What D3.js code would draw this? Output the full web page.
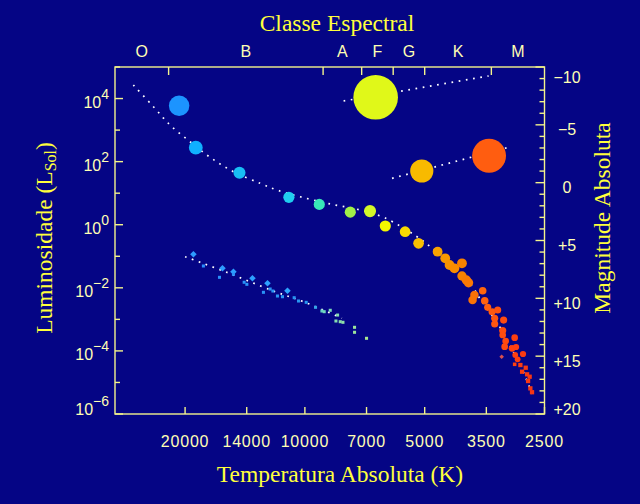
<!DOCTYPE html>
<html><head><meta charset="utf-8">
<script src="https://cdn.jsdelivr.net/npm/d3@7"></script>
<style>
html,body{margin:0;padding:0;background:#050585;}
svg{display:block;}
</style></head><body>
<svg id="chart" width="640" height="504"></svg>
<script>
// ---------- data ----------
const spectralClasses = ["O", "B", "A", "F", "G", "K", "M"];
const spectralBounds = [30000, 22000, 9000, 7200, 6000, 5000, 3400, 2500];
const tempTicks = [20000, 14000, 10000, 7000, 5000, 3500, 2500];
const lumExponents = [-6, -5, -4, -3, -2, -1, 0, 1, 2, 3, 4, 5];
const lumLabelExponents = [4, 2, 0, -2, -4, -6];
const magMajor = [-10, -5, 0, 5, 10, 15, 20];
const magMinor = d3.range(-10, 21, 1);
const magLabels = ["\u221210", "\u22125", "0", "+5", "+10", "+15", "+20"];

// main sequence stars
const msTemp = [20700, 18800, 14600, 10970, 9200, 7690, 6860, 6280, 5600, 5180,
  4640, 4440, 4330, 4210, 4030, 4030, 3930, 3880, 3575, 3750,
  3790, 3533, 3473, 3386, 3278, 3335, 3335, 3167, 3184, 3184,
  3130, 2971, 3148, 3016, 2947, 3203, 2961, 2831, 2921, 2971,
  2874, 2846, 2787, 2765, 2724, 2749, 2713, 2687];
const msLum = [5900, 277, 44.6, 7.4, 4.4, 2.5, 2.7, 0.91, 0.60, 0.258,
  0.14, 0.086, 0.0528, 0.0416, 0.0598, 0.0237, 0.0177, 0.0145, 0.0081, 0.0059,
  0.0041, 0.0039, 0.0024, 0.00175, 0.00198, 0.00108, 0.00071, 0.00095, 0.00044, 0.00032,
  0.000206, 0.000262, 0.000136, 0.000121, 0.000133, 0.0000655, 0.0000741, 0.0000798, 0.0000542, 0.0000376,
  0.0000357, 0.0000219, 0.0000293, 0.0000181, 0.0000152, 0.0000111, 0.0000065, 0.0000049];
const msRelRadius = [0.46, 0.31, 0.27, 0.25, 0.25, 0.25, 0.27, 0.25, 0.24, 0.24,
  0.22, 0.22, 0.22, 0.22, 0.22, 0.21, 0.21, 0.21, 0.17, 0.19,
  0.19, 0.17, 0.16, 0.16, 0.16, 0.16, 0.16, 0.16, 0.16, 0.15,
  0.15, 0.15, 0.15, 0.15, 0.14, 0.10, 0.13, 0.14, 0.13, 0.10,
  0.12, 0.12, 0.12, 0.12, 0.12, 0.12, 0.12, 0.12];
const msShape = ["c","c","c","c","c","c","c","c","c","c",
  "c","c","c","c","c","c","c","c","c","c",
  "c","c","c","c","c","c","c","c","c","c",
  "c","c","c","c","c","d","c","c","c","s",
  "s","s","s","s","s","s","s","s"];

// giants and supergiant
const giantTemp = [5085, 3445, 6640];
const giantLum = [50.5, 154, 10950];
const giantRelRadius = [0.52, 0.76, 1.0];

// white dwarfs
const wdTemp = [19060, 16110, 15120, 13545, 12415, 11060,
  17990, 16390, 15120, 14210, 13990, 12710, 12225, 12035, 11720, 11385,
  10640, 10375, 9925, 9403, 9063, 8943, 8635, 8277, 8356, 8150, 8023, 7503, 7503, 7000];
const wdLum = [0.1155, 0.0416, 0.0324, 0.020, 0.01387, 0.0081,
  0.0492, 0.0215, 0.0268, 0.015, 0.0129, 0.0072, 0.00917, 0.00792, 0.0055, 0.00522,
  0.00486, 0.00382, 0.00347, 0.00241, 0.00184, 0.00175, 0.00194, 0.00137, 0.000887, 0.000843, 0.000807, 0.00056, 0.000389, 0.000251];
const wdShape = ["d","d","d","d","d","d",
  "s","s","s","s","s","s","s","s","s","s",
  "s","s","s","s","s","s","s","s","s","s","s","s","s","s"];

// dotted sequences
const msCurveTemp = [26980, 24020, 21820, 19430, 17300, 15120, 12955, 11760, 10275, 8635, 7260, 6283, 5228, 4840, 4310, 3802, 3623, 3260, 3045, 2840, 2661];
const msCurveLum = [26850, 5510, 1449, 428, 137, 48, 20.6, 12.6, 7.73, 4.54, 2.93, 1.63, 0.417, 0.201, 0.0657, 0.0114, 0.00432, 0.000662, 0.000136, 0.0000248, 0.00000314];
const giantCurveTemp = [6040, 3075];
const giantCurveLum = [29.6, 285];
const superCurveTemp = [7995, 3453];
const superCurveLum = [8360, 51860];
const wdCurveTemp = [20000, 15860, 11875, 10080, 8070];
const wdCurveLum = [0.0969, 0.0324, 0.00753, 0.00363, 0.00108];

// colour ramps by temperature
const starColorTemps = [30000, 20700, 18800, 14600, 11000, 9200, 7700, 6860, 6300, 5600, 5200, 4600, 4000, 3500, 3000, 2500];
const starColors = ["#1878ff", "#1c94ff", "#10b0ff", "#18bef5", "#20cef0", "#38e8b8", "#a0f048", "#d4f828", "#f4f800", "#f8d800", "#f8c000", "#f8a000", "#f88000", "#ff6010", "#ff4010", "#f03018"];
const wdColorTemps = [20000, 9500, 9000, 8000, 7000];
const wdColors = ["#2a8cff", "#2898f0", "#70d8c0", "#90e0a8", "#a8e890"];

// ---------- layout ----------
const W = 640, H = 504;
const L = 115, R = 544.5, T = 67, B = 414;
const axisCol = "#f4f48c", tickTextCol = "#ffffb4", titleCol = "#ffff3c";
const sans = "'Liberation Sans', Arial, sans-serif";
const serif = "'Liberation Serif', 'Times New Roman', serif";

const svg = d3.select("#chart");
svg.append("rect").attr("width", W).attr("height", H).attr("fill", "#050585");

const x = d3.scaleLog().domain([30000, 2500]).range([L, R]);
const y = d3.scaleLog().domain([1e-6, 1e5]).range([B, T]);
const mag = d3.scaleLinear().domain([-10, 20]).range([T, B]);
const rScale = d3.scaleLinear().domain([0, 1]).range([0, 22.3]);
const starColor = d3.scaleLog().domain(starColorTemps).range(starColors).interpolate(d3.interpolateRgb).clamp(true);
const wdColor = d3.scaleLog().domain(wdColorTemps).range(wdColors).interpolate(d3.interpolateRgb).clamp(true);

// ---------- dotted curves ----------
const line = d3.line().x(d => x(d[0])).y(d => y(d[1])).curve(d3.curveCatmullRom);
const curves = [
  d3.zip(msCurveTemp, msCurveLum),
  d3.zip(giantCurveTemp, giantCurveLum),
  d3.zip(superCurveTemp, superCurveLum),
  d3.zip(wdCurveTemp, wdCurveLum)
];
svg.append("g").selectAll("path").data(curves).join("path")
  .attr("d", line).attr("fill", "none").attr("stroke", "#ffffff")
  .attr("stroke-width", 1.7).attr("stroke-dasharray", "1.7 5.6");

// ---------- markers ----------
function drawMarker(g, shape, cx, cy, r, col) {
  if (shape === "c") {
    g.append("circle").attr("cx", cx).attr("cy", cy).attr("r", r).attr("fill", col);
  } else if (shape === "s") {
    const s = r * 1.6;
    g.append("rect").attr("x", cx - s / 2).attr("y", cy - s / 2).attr("width", s).attr("height", s).attr("fill", col);
  } else {
    const s = r * 1.45;
    g.append("rect").attr("x", -s / 2).attr("y", -s / 2).attr("width", s).attr("height", s)
      .attr("transform", `translate(${cx},${cy}) rotate(45)`).attr("fill", col);
  }
}
const gWd = svg.append("g");
wdTemp.forEach((t, i) => {
  const isD = wdShape[i] === "d";
  drawMarker(gWd, wdShape[i], x(t), y(wdLum[i]), isD ? 3.2 : 1.9,
    isD ? d3.color(wdColor(t)).brighter(0.25).formatHex() : wdColor(t));
});
const gMs = svg.append("g");
msTemp.forEach((t, i) => {
  let col = starColor(t);
  if (msShape[i] === "d") col = "#d85050";
  drawMarker(gMs, msShape[i], x(t), y(msLum[i]), rScale(msRelRadius[i]), col);
});
const gGi = svg.append("g");
giantTemp.forEach((t, i) => {
  drawMarker(gGi, "c", x(t), y(giantLum[i]), rScale(giantRelRadius[i]), starColor(t));
});

// ---------- frame & ticks ----------
const gAx = svg.append("g").attr("stroke", axisCol).attr("stroke-width", 1.4).attr("fill", "none");
gAx.append("rect").attr("x", L).attr("y", T).attr("width", R - L).attr("height", B - T);
lumExponents.forEach(e => {
  const yy = y(Math.pow(10, e));
  const len = (e % 2 === 0) ? 8 : 5;
  gAx.append("line").attr("x1", L).attr("x2", L + len).attr("y1", yy).attr("y2", yy);
});
magMinor.forEach(m => {
  const yy = mag(m);
  const len = (m % 5 === 0) ? 9 : 5;
  gAx.append("line").attr("x1", R).attr("x2", R - len).attr("y1", yy).attr("y2", yy);
});
tempTicks.forEach(t => {
  const xx = x(t);
  gAx.append("line").attr("x1", xx).attr("x2", xx).attr("y1", B).attr("y2", B - 7);
});
spectralBounds.slice(1, -1).forEach(t => {
  const xx = x(t);
  gAx.append("line").attr("x1", xx).attr("x2", xx).attr("y1", T).attr("y2", T + 8);
});

// ---------- tick labels ----------
const gTxt = svg.append("g").attr("fill", tickTextCol).attr("font-family", sans);
tempTicks.forEach(t => {
  gTxt.append("text").attr("x", x(t)).attr("y", 447).attr("text-anchor", "middle")
    .attr("font-size", 16).attr("letter-spacing", 0.8).text(d3.format("d")(t));
});
lumLabelExponents.forEach(e => {
  const yy = Math.min(y(Math.pow(10, e)) + 9.3, 415);
  const tx = gTxt.append("text").attr("x", 109).attr("y", yy).attr("text-anchor", "end").attr("font-size", 16);
  tx.append("tspan").text("10");
  tx.append("tspan").attr("dy", -9).attr("font-size", 14).text(e < 0 ? "\u2212" + Math.abs(e) : String(e));
});
magMajor.forEach((m, i) => {
  const yy = Math.max(83, Math.min(mag(m) + 10.5, 415));
  gTxt.append("text").attr("x", 567).attr("y", yy).attr("text-anchor", "middle")
    .attr("font-size", 16).text(magLabels[i]);
});
spectralClasses.forEach((c, i) => {
  const xm = (x(spectralBounds[i]) + x(spectralBounds[i + 1])) / 2;
  gTxt.append("text").attr("x", xm).attr("y", 57).attr("text-anchor", "middle")
    .attr("font-size", 16).text(c);
});

// ---------- titles ----------
const gT = svg.append("g").attr("fill", titleCol).attr("font-family", serif).attr("font-size", 23.5);
gT.append("text").attr("x", 337).attr("y", 31).attr("text-anchor", "middle").text("Classe Espectral");
gT.append("text").attr("x", 340).attr("y", 482).attr("text-anchor", "middle").text("Temperatura Absoluta (K)");
const yl = gT.append("text").attr("transform", "translate(52,238) rotate(-90)").attr("text-anchor", "middle");
yl.append("tspan").text("Luminosidade (L");
yl.append("tspan").attr("font-size", 16).attr("dy", 4).text("Sol");
yl.append("tspan").attr("dy", -4).text(")");
gT.append("text").attr("transform", "translate(609.5,218) rotate(-90)").attr("text-anchor", "middle").text("Magnitude Absoluta");
</script>
</body></html>
